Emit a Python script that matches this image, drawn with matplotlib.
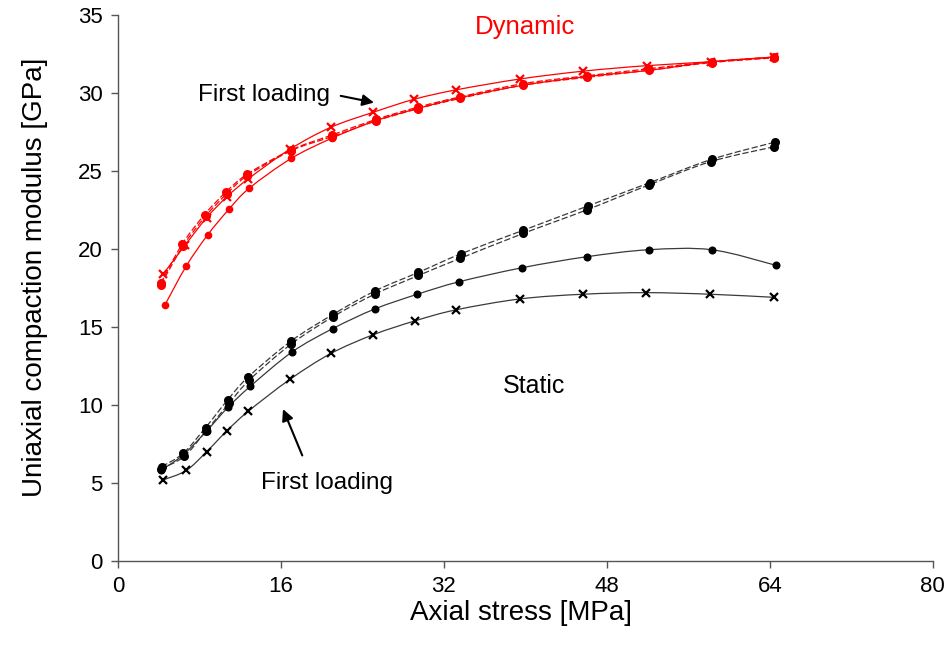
import numpy as np
import matplotlib.pyplot as plt
from matplotlib.path import Path
from matplotlib.patches import PathPatch

plt.rcParams['font.family'] = ['Liberation Sans', 'DejaVu Sans']

# dynamic moduli (red)
dyn_first_x = [4.45, 6.6, 8.7, 10.7, 12.8, 16.9, 20.9, 25.0, 29.1, 33.2, 39.5, 45.7, 51.9, 58.2, 64.4]
dyn_first_y = [18.4, 20.25, 22.0, 23.35, 24.5, 26.4, 27.8, 28.75, 29.6, 30.2, 30.9, 31.4, 31.75, 32.0, 32.3]
dyn_b_x = [4.6, 6.7, 8.8, 10.9, 12.9, 17.0, 21.0, 25.2, 29.4, 33.6, 39.8, 46.0, 52.1, 58.3, 64.4]
dyn_b_y = [16.4, 18.9, 20.9, 22.55, 23.9, 25.8, 27.1, 28.2, 29.0, 29.7, 30.5, 31.05, 31.45, 32.0, 32.3]
dyn_c_x = [4.2, 6.3, 8.5, 10.6, 12.7, 17.0, 21.0, 25.3, 29.5, 33.6, 39.8, 46.0, 52.1, 58.3, 64.4]
dyn_c_y = [17.8, 20.3, 22.2, 23.65, 24.8, 26.35, 27.3, 28.3, 29.1, 29.75, 30.6, 31.1, 31.55, 32.0, 32.3]
dyn_d_x = [4.2, 6.4, 8.6, 10.7, 12.7, 17.0, 21.0, 25.3, 29.5, 33.6, 39.8, 46.0, 52.1, 58.3, 64.4]
dyn_d_y = [17.7, 20.2, 22.1, 23.55, 24.7, 26.3, 27.2, 28.2, 29.0, 29.65, 30.5, 31.0, 31.45, 31.95, 32.25]

# static moduli (black)
sta_first_x = [4.45, 6.7, 8.7, 10.7, 12.8, 16.9, 20.9, 25.05, 29.2, 33.2, 39.5, 45.7, 51.8, 58.1, 64.4]
sta_first_y = [5.2, 5.8, 7.0, 8.35, 9.6, 11.65, 13.3, 14.5, 15.4, 16.1, 16.8, 17.1, 17.2, 17.1, 16.9]
sta_b_x = [4.2, 6.4, 8.7, 10.8, 13.0, 17.1, 21.1, 25.2, 29.4, 33.5, 39.7, 46.0, 52.1, 58.3, 64.6]
sta_b_y = [5.8, 6.8, 8.33, 9.85, 11.2, 13.4, 14.9, 16.15, 17.1, 17.9, 18.8, 19.5, 19.95, 19.95, 18.95]
sta_c_x = [4.3, 6.4, 8.6, 10.8, 12.8, 17.0, 21.1, 25.2, 29.5, 33.7, 39.8, 46.1, 52.2, 58.3, 64.5]
sta_c_y = [6.05, 6.9, 8.55, 10.35, 11.8, 14.1, 15.8, 17.3, 18.5, 19.7, 21.2, 22.75, 24.25, 25.75, 26.85]
sta_d_x = [4.2, 6.5, 8.6, 10.9, 12.9, 17.0, 21.1, 25.2, 29.5, 33.6, 39.8, 46.0, 52.1, 58.2, 64.4]
sta_d_y = [5.9, 6.7, 8.3, 10.1, 11.6, 13.9, 15.65, 17.1, 18.3, 19.4, 21.0, 22.5, 24.1, 25.6, 26.55]

x_ticks = [0, 16, 32, 48, 64, 80]
y_ticks = [0, 5, 10, 15, 20, 25, 30, 35]


def smooth_path(x, y):
    # Catmull-Rom style bezier through the measured points
    p = np.column_stack([x, y]).astype(float)
    verts = [p[0]]
    codes = [Path.MOVETO]
    n = len(p)
    for i in range(n - 1):
        p0 = p[i - 1] if i > 0 else p[i]
        p3 = p[i + 2] if i + 2 < n else p[i + 1]
        c1 = p[i] + (p[i + 1] - p0) / 6.0
        c2 = p[i + 1] - (p3 - p[i]) / 6.0
        verts += [c1, c2, p[i + 1]]
        codes += [Path.CURVE4] * 3
    return Path(verts, codes)


def draw(ax, x, y, color, mcolor, ls, marker, ms):
    ax.add_patch(PathPatch(smooth_path(x, y), fill=False, edgecolor=color,
                           linestyle=ls, linewidth=0.9))
    if marker == 'x':
        ax.plot(x, y, linestyle='none', marker='x', color=mcolor, ms=ms, mew=1.6)
    else:
        ax.plot(x, y, linestyle='none', marker='o', color=mcolor, ms=ms, mew=0)


fig = plt.figure(figsize=(9.49, 6.48), dpi=100)
ax = fig.add_axes([0.1243, 0.1343, 0.8587, 0.8426])

red = '#ff0000'
blk = '#3a3a3a'
draw(ax, dyn_first_x, dyn_first_y, red, red, '-', 'x', 6)
draw(ax, dyn_b_x, dyn_b_y, red, red, '-', 'o', 5.5)
draw(ax, dyn_c_x, dyn_c_y, red, red, (0, (5, 2)), 'o', 6.5)
draw(ax, dyn_d_x, dyn_d_y, red, red, (0, (5, 2)), 'o', 6.5)

draw(ax, sta_first_x, sta_first_y, blk, 'black', '-', 'x', 6)
draw(ax, sta_b_x, sta_b_y, blk, 'black', '-', 'o', 5.8)
draw(ax, sta_c_x, sta_c_y, blk, 'black', (0, (5, 2)), 'o', 6.5)
draw(ax, sta_d_x, sta_d_y, blk, 'black', (0, (5, 2)), 'o', 6.5)

ax.set_xlim(0, 80)
ax.set_ylim(0, 35)
ax.set_xticks(x_ticks)
ax.set_yticks(y_ticks)
ax.spines['top'].set_visible(False)
ax.spines['right'].set_visible(False)
for s in ('left', 'bottom'):
    ax.spines[s].set_color('#555555')
    ax.spines[s].set_linewidth(1.0)
ax.tick_params(direction='out', length=5, width=1.0, color='#555555',
               labelsize=16, pad=6)

ax.set_xlabel('Axial stress [MPa]', fontsize=20)
ax.set_ylabel('Uniaxial compaction modulus [GPa]', fontsize=20)
ax.xaxis.set_label_coords(0.495, -0.072)
ax.yaxis.set_label_coords(-0.086, 0.52)

ax.text(40, 34.2, 'Dynamic', color=red, fontsize=18.5, ha='center', va='center')
ax.text(40.8, 11.2, 'Static', color='black', fontsize=18, ha='center', va='center')

ax.text(20.8, 29.9, 'First loading', fontsize=17.5, ha='right', va='center')
ax.annotate('', xy=(25.4, 29.35), xytext=(21.6, 29.85),
            arrowprops=dict(arrowstyle='-|>', color='black', lw=1.5, mutation_scale=17))
ax.text(27.0, 5.0, 'First loading', fontsize=17.5, ha='right', va='center')
ax.annotate('', xy=(16.1, 9.9), xytext=(18.2, 6.6),
            arrowprops=dict(arrowstyle='-|>', color='black', lw=1.5, mutation_scale=17))

fig.savefig('out.png', dpi=100)
